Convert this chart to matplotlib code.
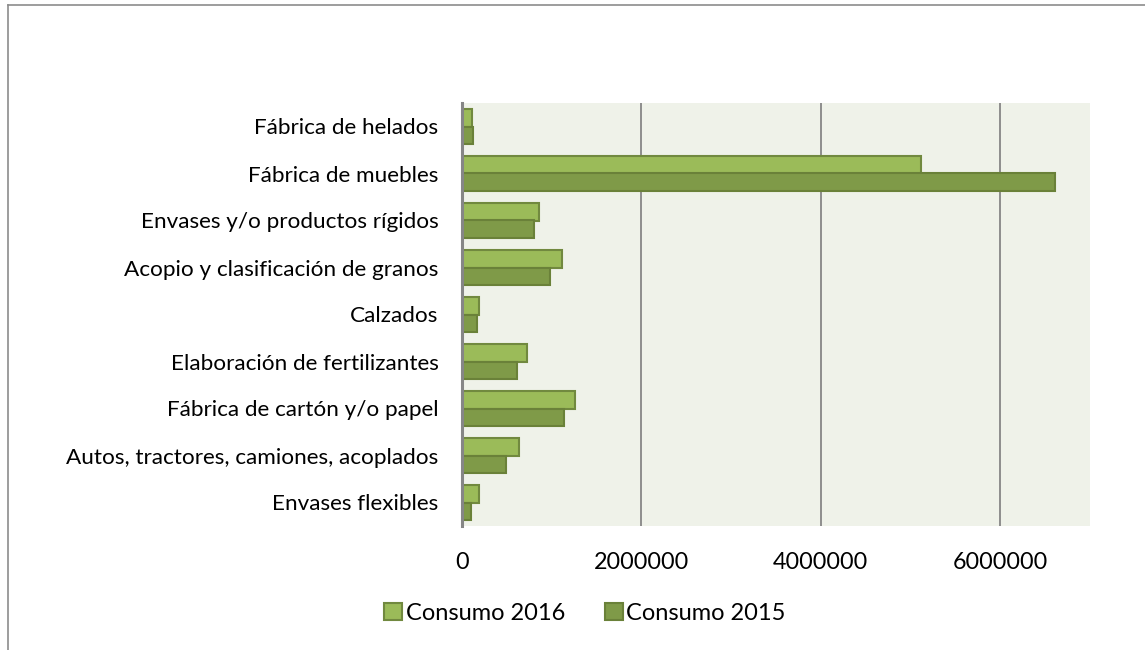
import matplotlib.pyplot as plt
import matplotlib.lines as mlines
import numpy as np

# categories listed bottom to top
categorias = ["Envases flexibles",
              "Autos, tractores, camiones, acoplados",
              "Fábrica de cartón y/o papel",
              "Elaboración de fertilizantes",
              "Calzados",
              "Acopio y clasificación de granos",
              "Envases y/o productos rígidos",
              "Fábrica de muebles",
              "Fábrica de helados"]
consumo_2016 = [187000, 633000, 1263000, 726000, 190000, 1117000, 860000, 5117000, 108000]
consumo_2015 = [100000, 492000, 1136000, 611000, 164000, 983000, 804000, 6610000, 123000]
ticks_x = [0, 2000000, 4000000, 6000000]

plt.rcParams['font.family'] = ['Lato', 'DejaVu Sans']

W, H = 1145, 650
fig = plt.figure(figsize=(W / 100, H / 100), dpi=100)

# outer frame (left + top)
fig.add_artist(mlines.Line2D([8 / W, 8 / W], [0, 1 - 5 / H], color="#8c8c8c", lw=1.2))
fig.add_artist(mlines.Line2D([8 / W, 1], [1 - 5 / H, 1 - 5 / H], color="#8c8c8c", lw=1.2))

ax = fig.add_axes([462 / W, (H - 526) / H, 628 / W, 423 / H])
ax.set_facecolor("#eff2e9")

y = np.arange(len(categorias))
h = 0.37
ax.barh(y + h / 2, consumo_2016, height=h, color="#9bbb59", edgecolor="#71893f", lw=1.5,
        label="Consumo 2016", zorder=3)
ax.barh(y - h / 2, consumo_2015, height=h, color="#7f9a48", edgecolor="#6a8139", lw=1.5,
        label="Consumo 2015", zorder=3)

ax.set_xlim(0, 7000000)
ax.set_ylim(-0.5, len(categorias) - 0.5)
ax.set_xticks(ticks_x)
ax.set_xticklabels([str(t) for t in ticks_x], fontsize=16.8)
ax.set_yticks(y)
ax.set_yticklabels(categorias, fontsize=16.2)
ax.tick_params(length=0)
ax.tick_params(axis="x", pad=19)
ax.tick_params(axis="y", pad=17)

ax.grid(axis="x", color="#868686", lw=1.3, zorder=1)
ax.xaxis.get_gridlines()[0].set_visible(False)
for s in ["top", "right", "bottom"]:
    ax.spines[s].set_visible(False)
ax.spines["left"].set_color("#868686")
ax.spines["left"].set_linewidth(2.2)
ax.spines["left"].set_zorder(4)

ax.legend(loc="center", bbox_to_anchor=(585 / W, 1 - 613 / H), bbox_transform=fig.transFigure,
          ncol=2, frameon=False, fontsize=17, handlelength=0.75, handleheight=0.75,
          handletextpad=0.15, columnspacing=1.7)

fig.savefig("out.png", dpi=100)
